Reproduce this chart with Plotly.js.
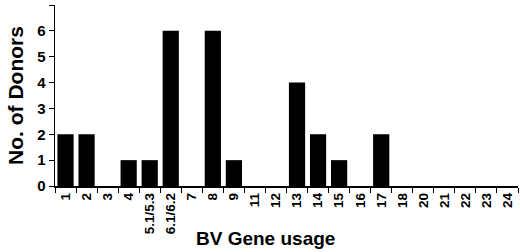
<!DOCTYPE html>
<html><head><meta charset="utf-8">
<script src="https://cdn.plot.ly/plotly-3.0.1.min.js"></script>
<style>html,body{margin:0;padding:0;background:#fff}#c{width:520px;height:252px}</style>
</head><body><div id="c"></div>
<script>
const genes = ["1","2","3","4","5.1/5.3","6.1/6.2","7","8","9","11","12","13","14","15","16","17","18","20","21","22","23","24"];
const donors = [2,2,0,1,1,6,0,6,1,0,0,4,2,1,0,2,0,0,0,0,0,0];
const yTicks = [0,1,2,3,4,5,6,7];

const F = "Liberation Sans, Arial, sans-serif";
Plotly.newPlot("c", [{
  type: "bar", x: genes, y: donors,
  marker: {color: "#000", line: {width: 0}},
  hoverinfo: "none"
}], {
  width: 520, height: 252,
  margin: {l: 55, r: 2, t: 5, b: 66},
  paper_bgcolor: "#fff", plot_bgcolor: "#fff",
  bargap: 0.23,
  showlegend: false,
  xaxis: {
    type: "category", showline: true, linecolor: "#000", linewidth: 1.5,
    ticks: "outside", tickson: "boundaries", ticklen: 5, tickwidth: 1, tickcolor: "#000",
    tickangle: -90, showgrid: false, zeroline: false,
    tickfont: {family: F, size: 13.5, color: "#000", weight: "bold"}
  },
  yaxis: {
    range: [0, 7], tickvals: yTicks, showline: true, linecolor: "#000", linewidth: 1.5,
    ticks: "outside", ticklen: 5, tickwidth: 1, tickcolor: "#000",
    showgrid: false, zeroline: false,
    tickfont: {family: F, size: 15, color: "#000", weight: "bold"},
    title: {text: "<b>No. of Donors</b>", font: {family: F, size: 21, color: "#000"}, standoff: 8}
  },
  annotations: [{
    text: "<b>BV Gene usage</b>", xref: "paper", yref: "paper",
    x: 0.455, y: -0.292, xanchor: "center", yanchor: "middle", showarrow: false,
    font: {family: F, size: 19, color: "#000"}
  }]
}, {staticPlot: true});
</script></body></html>
